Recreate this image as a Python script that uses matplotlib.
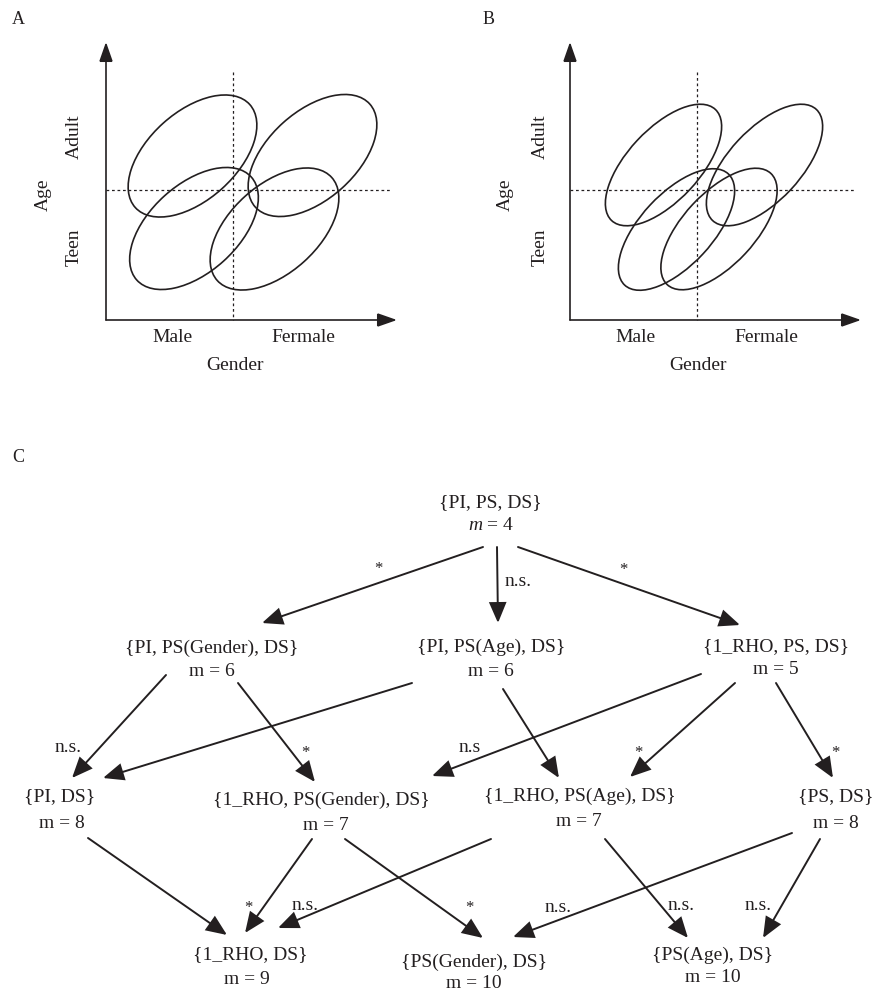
import matplotlib
matplotlib.use("Agg")
import matplotlib.pyplot as plt
from matplotlib.patches import Ellipse, FancyArrowPatch

plt.rcParams['font.family'] = ['Liberation Serif', 'DejaVu Serif']
plt.rcParams['mathtext.fontset'] = 'custom'
plt.rcParams['mathtext.it'] = 'Liberation Serif:italic'
plt.rcParams['mathtext.rm'] = 'Liberation Serif'
INK = '#231f20'

# ---------------- Panels A and B : ellipses (pixel-space data) ----------------
panels = ['A', 'B']
panel_letter_xy = [(18, 19), (489, 19)]
axis_origin = [(106, 320), (570, 320)]
axis_xend = [397, 861]
axis_ytop = [42, 42]
div_x = [233, 697]          # dashed vertical divider
div_y = [190, 190]          # dashed horizontal divider
div_xend = [392, 856]
div_ytop = [72, 72]

ellA_cx = [192.5, 312.5, 194.0, 274.5]
ellA_cy = [156.0, 155.5, 228.5, 229.0]
ellA_w, ellA_h, ellA_ang = 154, 88, -42
ellB_cx = [663.5, 764.5, 676.5, 719.0]
ellB_cy = [165.0, 165.0, 229.5, 229.0]
ellB_w, ellB_h, ellB_ang = 152, 72, -47

age_label_x = [43, 505]
age_cat_x = [74, 540]
age_cats = ['Adult', 'Teen']
age_cat_y = [137, 247]
gender_cats = ['Male', 'Fermale']
gender_cat_x = [(172, 303), (635, 766)]
gender_cat_y = 337
gender_label_x = [235, 698]
gender_label_y = 365

# ---------------- Panel C : model graph ----------------
node_labels = ['{PI, PS, DS}',
               '{PI, PS(Gender), DS}', '{PI, PS(Age), DS}', '{1_RHO, PS, DS}',
               '{PI, DS}', '{1_RHO, PS(Gender), DS}', '{1_RHO, PS(Age), DS}', '{PS, DS}',
               '{1_RHO, DS}', '{PS(Gender), DS}', '{PS(Age), DS}']
node_m = [4, 6, 6, 5, 8, 7, 7, 8, 9, 10, 10]
node_x = [490, 212, 491, 776, 60, 321, 580, 836, 250, 474, 713]
node_y = [503, 648, 647, 647, 797, 800, 796, 797, 955, 962, 955]
m_x = [491, 212, 491, 776, 62, 326, 579, 836, 247, 474, 713]
m_y = [526, 672, 672, 669, 823, 825, 822, 823, 980, 984, 978]

edge_x0 = [483, 497, 518, 166, 238, 412, 503, 701, 735, 776, 88, 312, 491, 345, 605, 792, 820]
edge_y0 = [547, 547, 547, 675, 683, 683, 689, 674, 683, 683, 838, 839, 839, 839, 839, 833, 839]
edge_x1 = [262, 498, 740, 72, 315, 103, 559, 432, 630, 833, 227, 245, 278, 483, 688, 513, 763]
edge_y1 = [623, 623, 625, 778, 782, 778, 778, 776, 777, 778, 935, 933, 928, 938, 938, 937, 938]
edge_sig = ['*', 'n.s.', '*', 'n.s.', '*', '', '', 'n.s', '*', '*', '', '*', 'n.s.', '*', 'n.s.', 'n.s.', 'n.s.']
sig_x = [378, 518, 623, 68, 305, 0, 0, 470, 638, 835, 0, 248, 305, 469, 681, 558, 758]
sig_y = [566, 582, 567, 747, 750, 0, 0, 747, 750, 750, 0, 905, 905, 905, 905, 908, 905]

# ---------------- drawing ----------------
fig = plt.figure(figsize=(8.73, 9.94), dpi=100)
ax = fig.add_axes([0, 0, 1, 1])
ax.set_xlim(0, 873)
ax.set_ylim(994, 0)
ax.axis('off')

FS = 14

def arrow(x0, y0, x1, y1, lw, hl, hw, ms):
    a = FancyArrowPatch((x0, y0), (x1, y1),
                        arrowstyle=f'-|>,head_length={hl},head_width={hw}',
                        mutation_scale=ms, lw=lw, color=INK,
                        shrinkA=0, shrinkB=0, joinstyle='miter')
    ax.add_patch(a)

ells = [(ellA_cx, ellA_cy, ellA_w, ellA_h, ellA_ang),
        (ellB_cx, ellB_cy, ellB_w, ellB_h, ellB_ang)]
for i, p in enumerate(panels):
    ox, oy = axis_origin[i]
    ax.text(*panel_letter_xy[i], p, fontsize=13, ha='center', va='center', color=INK)
    arrow(ox, oy, ox, axis_ytop[i], 1.2, 1.0, 0.35, 12)
    arrow(ox, oy, axis_xend[i], oy, 1.2, 1.0, 0.35, 12)
    ax.plot([div_x[i], div_x[i]], [div_ytop[i], oy], ls=(0, (2.2, 2.2)), lw=0.9, color=INK)
    ax.plot([ox, div_xend[i]], [div_y[i], div_y[i]], ls=(0, (2.2, 2.2)), lw=0.9, color=INK)
    cx, cy, w, h, ang = ells[i]
    for x, y in zip(cx, cy):
        ax.add_patch(Ellipse((x, y), w, h, angle=ang, fill=False, lw=1.2, ec=INK))
    ax.text(age_label_x[i], 195, 'Age', rotation=90, fontsize=FS, ha='center', va='center', color=INK)
    for lab, y in zip(age_cats, age_cat_y):
        ax.text(age_cat_x[i], y, lab, rotation=90, fontsize=FS, ha='center', va='center', color=INK)
    for lab, x in zip(gender_cats, gender_cat_x[i]):
        ax.text(x, gender_cat_y, lab, fontsize=FS, ha='center', va='center', color=INK)
    ax.text(gender_label_x[i], gender_label_y, 'Gender', fontsize=FS, ha='center', va='center', color=INK)

ax.text(18, 457, 'C', fontsize=13, ha='center', va='center', color=INK)

for k, lab in enumerate(node_labels):
    ax.text(node_x[k], node_y[k], lab, fontsize=FS, ha='center', va='center', color=INK)
    mtxt = (r'$m$' if k == 0 else 'm') + f' = {node_m[k]}'
    ax.text(m_x[k], m_y[k], mtxt, fontsize=FS, ha='center', va='center', color=INK)

for k in range(len(edge_x0)):
    arrow(edge_x0[k], edge_y0[k], edge_x1[k], edge_y1[k], 1.4, 0.9, 0.38, 14)
    if edge_sig[k]:
        fs = 12 if edge_sig[k] == '*' else FS
        dy = 3 if edge_sig[k] == '*' else 0
        ax.text(sig_x[k], sig_y[k] + dy, edge_sig[k], fontsize=fs, ha='center', va='center', color=INK)

fig.savefig('out.png', dpi=100)
